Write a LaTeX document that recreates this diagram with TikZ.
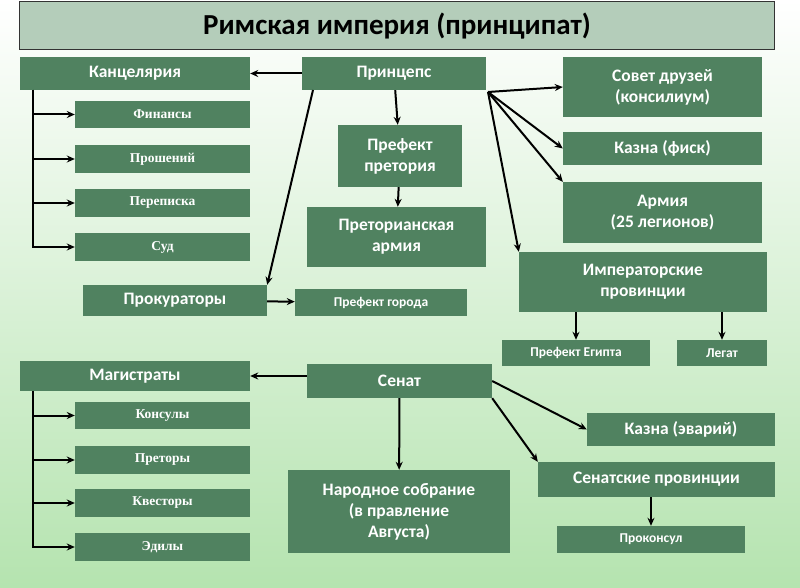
\documentclass[tikz,border=0pt]{standalone}
\usepackage{fontspec}
\setmainfont{Carlito}
\newfontfamily\serifbox{Liberation Serif}
\usetikzlibrary{arrows.meta}

\definecolor{boxgreen}{RGB}{80,130,96}
\definecolor{titlegreen}{RGB}{180,205,186}
\definecolor{bggreen}{RGB}{120,205,110}

\tikzset{
  box/.style={fill=boxgreen, text=white, inner sep=2pt, align=center,
    font=\bfseries\fontsize{17.5}{21}\selectfont},
  smallbox/.style={box, font=\serifbox\bfseries\fontsize{13.5}{16}\selectfont},
  minibox/.style={box, font=\bfseries\fontsize{13.5}{16}\selectfont},
  arr/.style={-{Stealth[length=8pt,width=7pt]}, line width=2pt}
}

\newcommand{\boxat}[7]{% style, name, x1, y1, x2, y2, text
  \node[#1, minimum width=#5pt-#3pt, minimum height=#6pt-#4pt]
    (#2) at ({(#3+#5)/2},{(#4+#6)/2}) {#7};}

\begin{document}
\begin{tikzpicture}[x=1pt, y=-1pt]

\fill[top color=white, middle color=bggreen, bottom color=bggreen!55] (0,0) rectangle (800,588);
\useasboundingbox (0,0) rectangle (800,588);

\node[draw=black!80, line width=1pt, fill=titlegreen, minimum width=755pt, minimum height=48pt,
  font=\bfseries\fontsize{29}{33}\selectfont] (title) at (397,26) {Римская империя (принципат)};

% principate
\boxat{box}{kanc}{20}{57}{250}{90}{Канцелярия}
\boxat{box}{princ}{302}{57}{486}{90}{Принцепс}
\boxat{box}{sovet}{563}{57}{762}{117}{Совет друзей\\(консилиум)}
\boxat{smallbox}{fin}{75}{101}{250}{128}{Финансы}
\boxat{smallbox}{prosh}{75}{145}{250}{173}{Прошений}
\boxat{smallbox}{perep}{75}{189}{250}{217}{Переписка}
\boxat{smallbox}{sud}{75}{233}{250}{261}{Суд}
\boxat{box}{prefpr}{338}{125}{462}{187}{Префект\\претория}
\boxat{box}{fisk}{563}{132}{762}{165}{Казна (фиск)}
\boxat{box}{army}{563}{182}{762}{243}{Армия\\(25 легионов)}
\boxat{box}{pretarmy}{307}{207}{486}{267}{Преторианская\\армия}
\boxat{box}{improv}{519}{252}{767}{312}{Императорские\\провинции}
\boxat{box}{prok}{83}{285}{267}{316}{Прокураторы}
\boxat{minibox}{prefgor}{295}{289}{467}{316}{Префект города}
\boxat{minibox}{egypt}{502}{340}{650}{366}{Префект Египта}
\boxat{minibox}{legat}{677}{340}{767}{366}{Легат}

% senate
\boxat{box}{magis}{20}{361}{250}{391}{Магистраты}
\boxat{box}{senat}{307}{364}{492}{398}{Сенат}
\boxat{smallbox}{kons}{75}{402}{250}{429}{Консулы}
\boxat{box}{erar}{587}{413}{775}{446}{Казна (эварий)}
\boxat{smallbox}{pret}{75}{446}{250}{474}{Преторы}
\boxat{box}{senprov}{538}{462}{775}{497}{Сенатские провинции}
\boxat{smallbox}{kvest}{75}{489}{250}{517}{Квесторы}
\boxat{box}{narod}{288}{470}{510}{553}{Народное собрание\\(в правление\\Августа)}
\boxat{minibox}{prokons}{557}{526}{745}{553}{Проконсул}
\boxat{smallbox}{edil}{75}{533}{250}{561}{Эдилы}

\coordinate (kanctop) at (33,90);
\coordinate (magtop) at (33,391);
\coordinate (princsw) at (313,90);
\coordinate (princse) at (488,92);
\coordinate (senatw) at (307,376);

\draw[arr] (princ) -- (kanc);
\draw[arr] (princ) -- (prefpr);
\draw[arr] (prefpr) -- (pretarmy);
\draw[arr] (princsw) -- (prok.north east);
\draw[arr] (princse) -- (sovet.west);
\draw[arr] (princse) -- (fisk.west);
\draw[arr] (princse) -- (army.north west);
\draw[arr] (princse) -- (improv.north west);
\draw[arr] (prok) -- (prefgor);
\draw[arr] (improv.south -| egypt) -- (egypt);
\draw[arr] (improv.south -| legat) -- (legat);
\foreach \b in {fin,prosh,perep,sud}
  \draw[arr] (kanctop) |- (\b.west);

\draw[arr] (senatw) -- (senatw -| magis.east);
\draw[arr] (senat.east) -- (erar.west);
\draw[arr] (senat.south east) -- (senprov.north west);
\draw[arr] (senat) -- (narod);
\draw[arr] (senprov.south -| prokons) -- (prokons);
\foreach \b in {kons,pret,kvest,edil}
  \draw[arr] (magtop) |- (\b.west);

\end{tikzpicture}
\end{document}
